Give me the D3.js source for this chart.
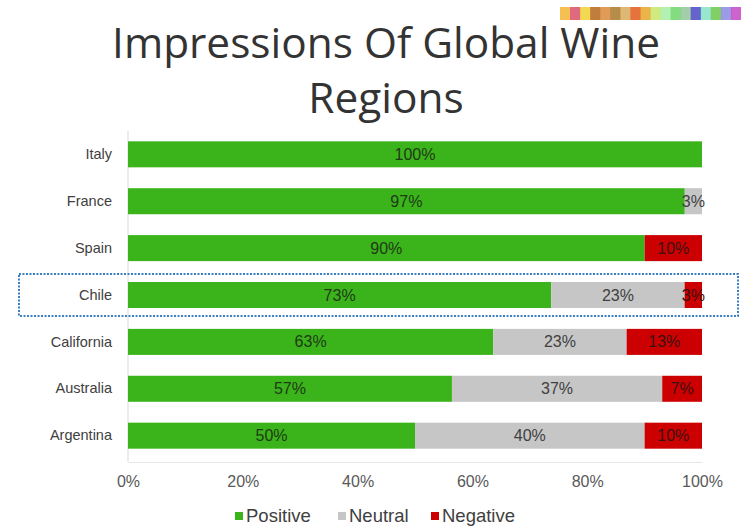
<!DOCTYPE html>
<html>
<head>
<meta charset="utf-8">
<script src="https://cdn.jsdelivr.net/npm/d3@7"></script>
<style>
  html, body { margin: 0; padding: 0; background: #fff; }
  svg { display: block; }
</style>
</head>
<body>
<svg id="chart" width="741" height="529"></svg>
<script>
// Survey shares per region, in percent
const regions  = ["Italy", "France", "Spain", "Chile", "California", "Australia", "Argentina"];
const positive = [100, 97, 90, 73, 63, 57, 50];
const neutral  = [0, 3, 0, 23, 23, 37, 40];
const negative = [0, 0, 10, 3, 13, 7, 10];
const seriesNames = ["Positive", "Neutral", "Negative"];
const tickValues = [0, 0.2, 0.4, 0.6, 0.8, 1];
const highlighted = "Chile";
const titleLines = ["Impressions Of Global Wine", "Regions"];
const stripColors = ["#f2b534", "#d9506a", "#f1d233", "#b5671a", "#d98a3a", "#a8782a", "#d8aa5c",
                     "#e25a1c", "#e8a72c", "#c8e66a", "#a6eea6", "#6fd66a", "#94c49a", "#4a48c4",
                     "#86e2c8", "#6cc84a", "#8a8ae2", "#c448c4"];

const colors = { Positive: "#3bb41c", Neutral: "#c6c6c6", Negative: "#cc0000" };

const svg = d3.select("#chart");
const W = 741, H = 529;
const m = { left: 128, right: 39, top: 131, bottom: 70 };
const font = "Arial, 'Liberation Sans', sans-serif";

// Decorative colour strip in the top-right corner
const strip = d3.scaleBand().domain(d3.range(stripColors.length)).range([560, 741]);
svg.append("g").selectAll("rect").data(stripColors).join("rect")
  .attr("x", (d, i) => strip(i)).attr("y", 7)
  .attr("width", strip.bandwidth() + 0.5).attr("height", 13)
  .attr("fill", d => d).attr("opacity", 0.85);

// Title, sized to span the plotted width
const title = svg.append("g");
const t1 = title.append("text").text(titleLines[0])
  .attr("x", 386).attr("y", 58)
  .attr("text-anchor", "middle")
  .attr("font-family", "'Open Sans', sans-serif")
  .attr("fill", "#333")
  .attr("font-size", 40);
const targetWidth = 548;
const fs = 40 * targetWidth / t1.node().getComputedTextLength();
t1.attr("font-size", fs);
title.append("text").text(titleLines[1])
  .attr("x", 386).attr("y", 113)
  .attr("text-anchor", "middle")
  .attr("font-family", "'Open Sans', sans-serif")
  .attr("fill", "#333")
  .attr("font-size", fs);

// Rows normalised to 100% stacking
const rows = regions.map((r, i) => {
  const total = positive[i] + neutral[i] + negative[i];
  return { region: r, Positive: positive[i], Neutral: neutral[i], Negative: negative[i], total };
});
const stack = d3.stack().keys(seriesNames)
  .value((d, k) => d[k] / d.total);
const layers = stack(rows);

const x = d3.scaleLinear().domain([0, 1]).range([m.left, W - m.right]);
const y = d3.scaleBand().domain(regions).range([m.top, H - m.bottom]).paddingInner(0.445).paddingOuter(0.22);

// Left rule of the plot
svg.append("line")
  .attr("x1", x(0)).attr("x2", x(0)).attr("y1", m.top).attr("y2", H - m.bottom + 3)
  .attr("stroke", "#d9d9d9").attr("stroke-width", 1);

// Highlight frame around one row
svg.append("rect")
  .attr("x", 19).attr("y", y(highlighted) - 8)
  .attr("width", 719).attr("height", y.bandwidth() + 16)
  .attr("fill", "none").attr("stroke", "#3b7fc4").attr("stroke-width", 2)
  .attr("stroke-dasharray", "2,1.5");

// Bars
const g = svg.append("g");
layers.forEach(layer => {
  g.append("g").selectAll("rect").data(layer).join("rect")
    .attr("x", d => x(d[0]))
    .attr("y", d => y(d.data.region))
    .attr("width", d => Math.max(0, x(d[1]) - x(d[0])))
    .attr("height", y.bandwidth())
    .attr("fill", colors[layer.key]);
});

// Value labels
layers.forEach(layer => {
  g.append("g").selectAll("text").data(layer.filter(d => d.data[layer.key] > 0)).join("text")
    .attr("x", d => (x(d[0]) + x(d[1])) / 2)
    .attr("y", d => y(d.data.region) + y.bandwidth() / 2)
    .attr("dy", "0.35em")
    .attr("text-anchor", "middle")
    .attr("font-family", font)
    .attr("font-size", 16)
    .attr("fill", layer.key === "Negative" ? "#3a1010" : layer.key === "Positive" ? "#1f3a14" : "#404040")
    .text(d => d.data[layer.key] + "%");
});

// Category axis labels
const yAxis = d3.axisLeft(y).tickSize(0).tickPadding(16);
const ya = svg.append("g").attr("transform", `translate(${x(0)},0)`).call(yAxis);
ya.select(".domain").remove();
ya.selectAll("text")
  .attr("font-family", font)
  .attr("font-size", 14.5)
  .attr("fill", "#404040");

// Percentage axis
const xAxis = d3.axisBottom(x).tickValues(tickValues).tickFormat(d3.format(".0%")).tickSize(0).tickPadding(14);
const xa = svg.append("g").attr("transform", `translate(0,${H - m.bottom + 3})`).call(xAxis);
xa.select(".domain").attr("stroke", "#e6e6e6");
xa.selectAll("text")
  .attr("font-family", font)
  .attr("font-size", 16)
  .attr("fill", "#595959");

// Legend
const legendX = [235, 338, 431];
const lg = svg.append("g");
seriesNames.forEach((s, i) => {
  lg.append("rect").attr("x", legendX[i]).attr("y", 512).attr("width", 8).attr("height", 8)
    .attr("fill", colors[s]);
  lg.append("text").attr("x", legendX[i] + 11).attr("y", 516).attr("dy", "0.35em")
    .attr("font-family", font)
    .attr("font-size", 18.5).attr("fill", "#404040").text(s);
});
</script>
</body>
</html>
